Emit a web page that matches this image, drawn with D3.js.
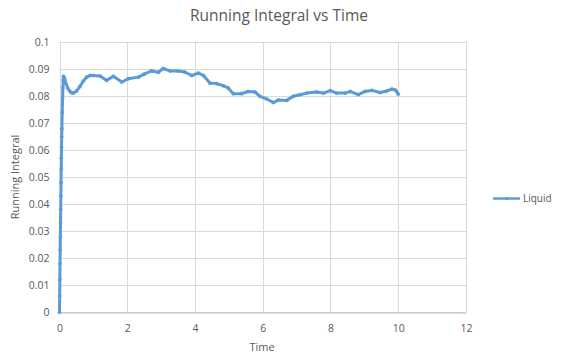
<!DOCTYPE html>
<html>
<head>
<meta charset="utf-8">
<script src="https://cdn.jsdelivr.net/npm/d3@7"></script>
<style>
  html, body { margin: 0; padding: 0; background: #fff; }
  svg { display: block; }
  text { font-family: "Open Sans", sans-serif; fill: #595959; }
</style>
</head>
<body>
<svg id="chart" width="562" height="358"></svg>
<script>
const title = "Running Integral vs Time";
const xLabel = "Time";
const yLabel = "Running Integral";
const seriesName = "Liquid";
const xTicks = [0, 2, 4, 6, 8, 10, 12];
const yTicks = [0, 0.01, 0.02, 0.03, 0.04, 0.05, 0.06, 0.07, 0.08, 0.09, 0.1];

const time = [
  0, 0.005, 0.01, 0.015, 0.02, 0.025, 0.03, 0.035, 0.04, 0.045, 0.05, 0.055, 0.06, 0.065, 0.07, 0.08, 0.09, 0.1, 0.11, 0.12,
  0.15, 0.2, 0.25, 0.31, 0.36, 0.41, 0.5, 0.6, 0.7, 0.8, 0.9, 1.0, 1.2,
  1.39, 1.59, 1.84, 2.03, 2.33, 2.5, 2.72, 2.92, 3.06, 3.26,
  3.5, 3.70, 3.90, 4.10, 4.25, 4.44, 4.64, 4.84, 4.98, 5.13, 5.38, 5.57, 5.77, 5.92, 6.12, 6.31, 6.46, 6.71,
  6.90, 7.10, 7.30, 7.59, 7.79, 7.99, 8.18, 8.43, 8.58, 8.82, 9.02, 9.22, 9.46, 9.65, 9.81, 9.92, 10.0
];
const liquid = [
  0, 0.006, 0.012, 0.018, 0.023, 0.028, 0.033, 0.038, 0.043, 0.048, 0.053, 0.057, 0.061, 0.065, 0.068, 0.074, 0.079, 0.083, 0.086, 0.0873,
  0.0865, 0.0843, 0.0828, 0.0817, 0.0812, 0.0811, 0.0818, 0.0835, 0.0855, 0.0870, 0.0876, 0.0876, 0.0874,
  0.0858, 0.0873, 0.0852, 0.0864, 0.0870, 0.0881, 0.0893, 0.0888, 0.0902, 0.0893,
  0.0893, 0.0889, 0.0876, 0.0885, 0.0876, 0.0848, 0.0846, 0.0838, 0.0830, 0.0809, 0.0809, 0.0817, 0.0815, 0.0799, 0.0789, 0.0776, 0.0785, 0.0784,
  0.0799, 0.0805, 0.0811, 0.0815, 0.0811, 0.0820, 0.0811, 0.0811, 0.0817, 0.0805, 0.0817, 0.0821, 0.0813, 0.0818, 0.0826, 0.0822, 0.0807
];

const data = time.map((t, i) => ({ t, v: liquid[i] }));

const svg = d3.select("#chart");
const plot = { left: 59.5, right: 466, top: 42, bottom: 312.3 };

const x = d3.scaleLinear().domain([0, 12]).range([plot.left, plot.right]);
const y = d3.scaleLinear().domain([0, 0.1]).range([plot.bottom, plot.top]);

// gridlines
svg.append("g").selectAll("line.h").data(yTicks).join("line")
  .attr("x1", plot.left).attr("x2", plot.right)
  .attr("y1", d => Math.round(y(d)) + 0.5).attr("y2", d => Math.round(y(d)) + 0.5)
  .attr("stroke", "#d9d9d9").attr("stroke-width", 1);
svg.append("g").selectAll("line.v").data(xTicks).join("line")
  .attr("x1", d => Math.round(x(d)) + 0.5).attr("x2", d => Math.round(x(d)) + 0.5)
  .attr("y1", plot.top).attr("y2", plot.bottom)
  .attr("stroke", "#d9d9d9").attr("stroke-width", 1);

// bottom axis
const xAxis = d3.axisBottom(x).tickValues(xTicks).tickSize(0).tickPadding(12).tickFormat(d3.format("d"));
const gx = svg.append("g").attr("transform", `translate(0,${Math.round(plot.bottom) + 0.5})`).call(xAxis);
gx.select(".domain").attr("stroke", "#bfbfbf");
gx.selectAll("text").attr("font-size", 10.5).attr("fill", "#595959").attr("font-family", "Open Sans, sans-serif");

// left axis
const yAxis = d3.axisLeft(y).tickValues(yTicks).tickSize(0).tickPadding(10).tickFormat(d => d === 0 ? "0" : d3.format("")(+d.toFixed(2)));
const gy = svg.append("g").attr("transform", `translate(${plot.left},0)`).call(yAxis);
gy.select(".domain").remove();
gy.selectAll("text").attr("font-size", 10.5).attr("fill", "#595959").attr("font-family", "Open Sans, sans-serif");

// series line
const line = d3.line().x(d => x(d.t)).y(d => y(d.v)).curve(d3.curveLinear);
svg.append("path").datum(data)
  .attr("d", line).attr("fill", "none")
  .attr("stroke", "#5b9bd5").attr("stroke-width", 3).attr("stroke-linejoin", "round");
svg.append("g").selectAll("circle").data(data).join("circle")
  .attr("cx", d => x(d.t)).attr("cy", d => y(d.v)).attr("r", 1.6)
  .attr("fill", "#5b9bd5").attr("stroke", "#5b9bd5").attr("stroke-width", 0.5);

// title
svg.append("text").attr("x", 279).attr("y", 21).attr("text-anchor", "middle")
  .attr("font-size", 15.5).attr("fill", "#595959").text(title);

// axis titles
svg.append("text").attr("x", 262).attr("y", 351).attr("text-anchor", "middle")
  .attr("font-size", 11).text(xLabel);
svg.append("text").attr("transform", "translate(19,177) rotate(-90)").attr("text-anchor", "middle")
  .attr("font-size", 11).text(yLabel);

// legend
svg.append("line").attr("x1", 493).attr("x2", 520).attr("y1", 198.5).attr("y2", 198.5)
  .attr("stroke", "#5b9bd5").attr("stroke-width", 2.5);
svg.append("circle").attr("cx", 506.5).attr("cy", 198.5).attr("r", 1.6).attr("fill", "#5b9bd5");
svg.append("text").attr("x", 523).attr("y", 202).attr("font-size", 10).text(seriesName);
</script>
</body>
</html>
